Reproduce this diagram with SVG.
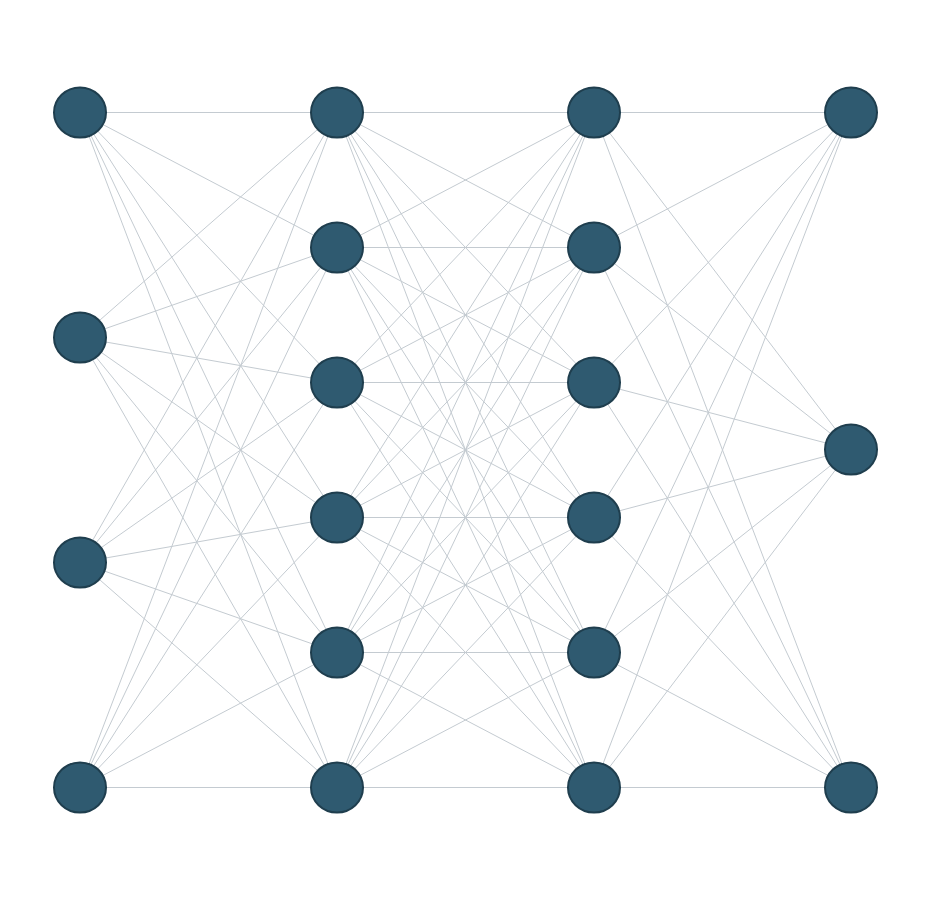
<svg xmlns="http://www.w3.org/2000/svg" width="930" height="900" viewBox="0 0 930 900">
<style>
.e{stroke:#c4cbd1;stroke-width:1;fill:none}
.n{fill:#2f5a70;stroke:#1f3e4e;stroke-width:2}
</style>
<rect width="930" height="900" fill="#ffffff"/>
<g transform="translate(0,-0.5)">
<g id="connectors">
<path class="e" d="M80,113L337,113M80,113L337,248M80,113L337,383M80,113L337,518M80,113L337,653M80,113L337,788
M80,338L337,113M80,338L337,248M80,338L337,383M80,338L337,518M80,338L337,653M80,338L337,788
M80,563L337,113M80,563L337,248M80,563L337,383M80,563L337,518M80,563L337,653M80,563L337,788
M80,788L337,113M80,788L337,248M80,788L337,383M80,788L337,518M80,788L337,653M80,788L337,788"/>
<path class="e" d="M337,113L594,113M337,113L594,248M337,113L594,383M337,113L594,518M337,113L594,653M337,113L594,788
M337,248L594,113M337,248L594,248M337,248L594,383M337,248L594,518M337,248L594,653M337,248L594,788
M337,383L594,113M337,383L594,248M337,383L594,383M337,383L594,518M337,383L594,653M337,383L594,788
M337,518L594,113M337,518L594,248M337,518L594,383M337,518L594,518M337,518L594,653M337,518L594,788
M337,653L594,113M337,653L594,248M337,653L594,383M337,653L594,518M337,653L594,653M337,653L594,788
M337,788L594,113M337,788L594,248M337,788L594,383M337,788L594,518M337,788L594,653M337,788L594,788"/>
<path class="e" d="M594,113L851,113M594,113L851,450M594,113L851,788
M594,248L851,113M594,248L851,450M594,248L851,788
M594,383L851,113M594,383L851,450M594,383L851,788
M594,518L851,113M594,518L851,450M594,518L851,788
M594,653L851,113M594,653L851,450M594,653L851,788
M594,788L851,113M594,788L851,450M594,788L851,788"/>
</g>
<g id="layer1">
<g id="n1_1"><ellipse class="n" cx="80" cy="113" rx="26" ry="25"/></g>
<g id="n1_2"><ellipse class="n" cx="80" cy="338" rx="26" ry="25"/></g>
<g id="n1_3"><ellipse class="n" cx="80" cy="563" rx="26" ry="25"/></g>
<g id="n1_4"><ellipse class="n" cx="80" cy="788" rx="26" ry="25"/></g>
</g>
<g id="layer2">
<g id="n2_1"><ellipse class="n" cx="337" cy="113" rx="26" ry="25"/></g>
<g id="n2_2"><ellipse class="n" cx="337" cy="248" rx="26" ry="25"/></g>
<g id="n2_3"><ellipse class="n" cx="337" cy="383" rx="26" ry="25"/></g>
<g id="n2_4"><ellipse class="n" cx="337" cy="518" rx="26" ry="25"/></g>
<g id="n2_5"><ellipse class="n" cx="337" cy="653" rx="26" ry="25"/></g>
<g id="n2_6"><ellipse class="n" cx="337" cy="788" rx="26" ry="25"/></g>
</g>
<g id="layer3">
<g id="n3_1"><ellipse class="n" cx="594" cy="113" rx="26" ry="25"/></g>
<g id="n3_2"><ellipse class="n" cx="594" cy="248" rx="26" ry="25"/></g>
<g id="n3_3"><ellipse class="n" cx="594" cy="383" rx="26" ry="25"/></g>
<g id="n3_4"><ellipse class="n" cx="594" cy="518" rx="26" ry="25"/></g>
<g id="n3_5"><ellipse class="n" cx="594" cy="653" rx="26" ry="25"/></g>
<g id="n3_6"><ellipse class="n" cx="594" cy="788" rx="26" ry="25"/></g>
</g>
<g id="layer4">
<g id="n4_1"><ellipse class="n" cx="851" cy="113" rx="26" ry="25"/></g>
<g id="n4_2"><ellipse class="n" cx="851" cy="450" rx="26" ry="25"/></g>
<g id="n4_3"><ellipse class="n" cx="851" cy="788" rx="26" ry="25"/></g>
</g>
</g>
</svg>
